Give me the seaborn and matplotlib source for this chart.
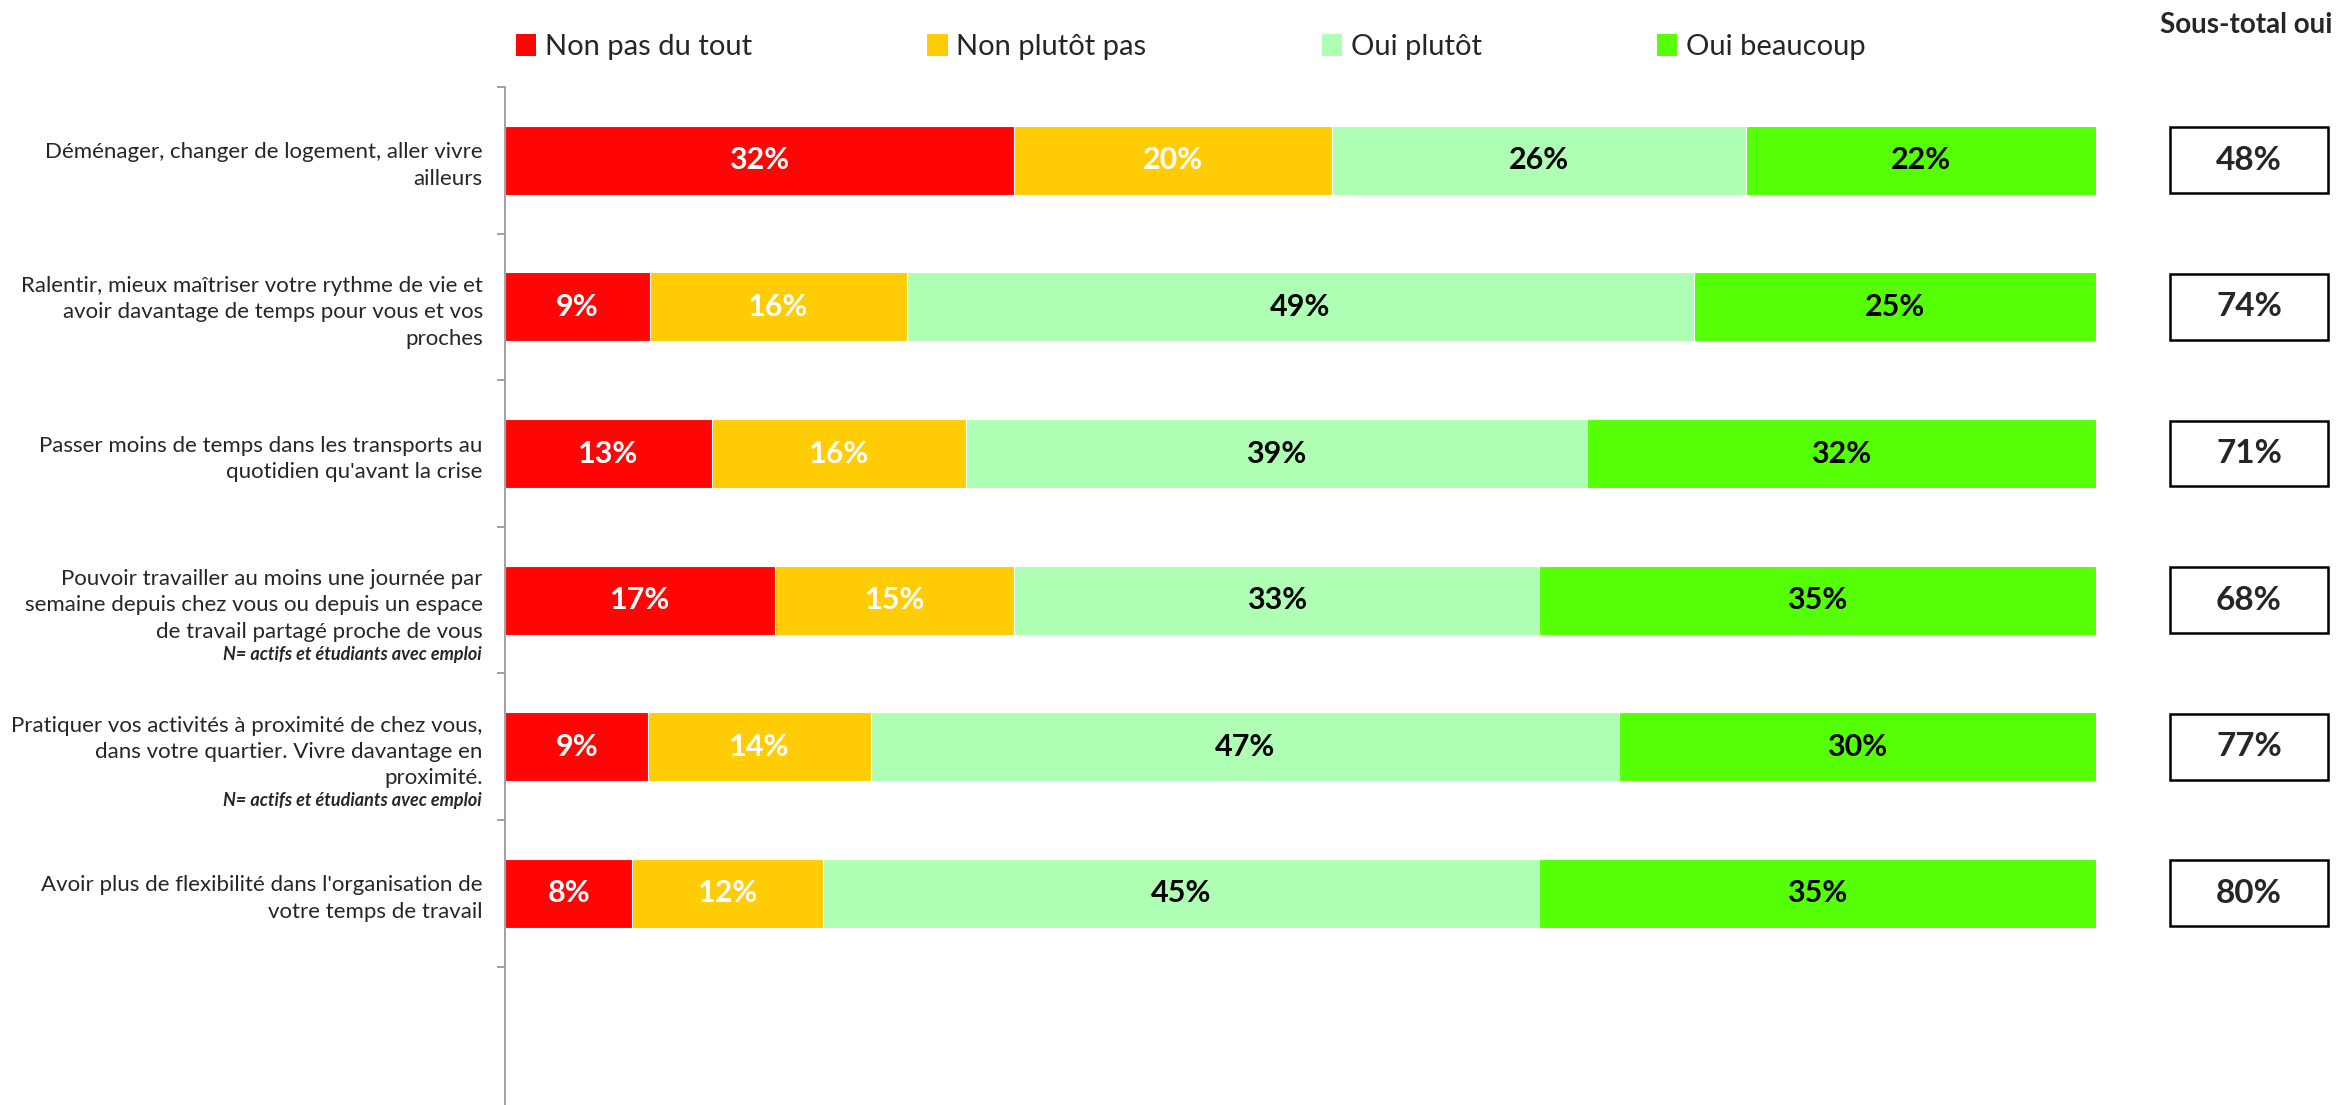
import numpy as np
import pandas as pd
import matplotlib.pyplot as plt
import matplotlib.transforms as mtransforms
from matplotlib.patches import Rectangle, Patch
import seaborn as sns

# === Data ===
items = [
    "Déménager, changer de logement, aller vivre\nailleurs",
    "Ralentir, mieux maîtriser votre rythme de vie et\navoir davantage de temps pour vous et vos\nproches",
    "Passer moins de temps dans les transports au\nquotidien qu'avant la crise",
    "Pouvoir travailler au moins une journée par\nsemaine depuis chez vous ou depuis un espace\nde travail partagé proche de vous",
    "Pratiquer vos activités à proximité de chez vous,\ndans votre quartier. Vivre davantage en\nproximité.",
    "Avoir plus de flexibilité dans l'organisation de\nvotre temps de travail",
]
notes = ["", "", "", "N= actifs et étudiants avec emploi", "N= actifs et étudiants avec emploi", ""]

non_pas_du_tout = [32, 9, 13, 17, 9, 8]
non_plutot_pas = [20, 16, 16, 15, 14, 12]
oui_plutot = [26, 49, 39, 33, 47, 45]
oui_beaucoup = [22, 25, 32, 35, 30, 35]
sous_total_oui = [48, 74, 71, 68, 77, 80]

series_names = ["Non pas du tout", "Non plutôt pas", "Oui plutôt", "Oui beaucoup"]
colors = ["#FF0505", "#FFCC05", "#AEFFB4", "#55FF05"]
text_colors = ["white", "white", "black", "black"]

df = pd.DataFrame({
    "item": items,
    "Non pas du tout": non_pas_du_tout,
    "Non plutôt pas": non_plutot_pas,
    "Oui plutôt": oui_plutot,
    "Oui beaucoup": oui_beaucoup,
})

# 100% stacked: normalise each row
vals = df[series_names]
shares = vals.div(vals.sum(axis=1), axis=0) * 100
cum = shares.cumsum(axis=1)

# === Style ===
sns.set_style("white")
plt.rcParams["font.family"] = ["Lato", "DejaVu Sans"]

W, H = 2346, 1105
fig = plt.figure(figsize=(W / 100, H / 100), dpi=100)
ax = fig.add_axes([505 / W, 0, (2096 - 505) / W, 1 - 87 / H])

# stacked bars drawn as cumulative layers, widest first
for name, color in reversed(list(zip(series_names, colors))):
    sns.barplot(x=cum[name], y=df["item"], color=color, orient="h", width=0.47,
                saturation=1, edgecolor="white", linewidth=0.8, ax=ax)

# segment labels
for i in range(len(df)):
    for j, name in enumerate(series_names):
        center = cum[name].iloc[i] - shares[name].iloc[i] / 2
        ax.text(center, i, f"{vals[name].iloc[i]}%", ha="center", va="center",
                color=text_colors[j], fontsize=22, fontweight="bold")

# axes cosmetics
ax.set_xlim(0, 100)
ax.set_ylim(6.444, -0.5)
ax.set_xlabel("")
ax.set_ylabel("")
ax.set_xticks([])
ax.set_yticks(range(len(items)))
ax.set_yticklabels(items, fontsize=16, linespacing=1.4)
ax.set_yticks(np.arange(-0.5, 6.0, 1), minor=True)
ax.tick_params(axis="y", which="major", length=0, pad=16)
ax.tick_params(axis="y", which="minor", length=6, width=1.3, color="#9a9a9a", left=True)
for s in ["top", "right", "bottom"]:
    ax.spines[s].set_visible(False)
ax.spines["left"].set_color("#9a9a9a")
ax.spines["left"].set_linewidth(1.3)

# notes under some labels
note_tr = mtransforms.blended_transform_factory(fig.transFigure, ax.transData)
for i, note in enumerate(notes):
    if note:
        ax.text(482 / W, i + 0.37, note, transform=note_tr, ha="right", va="center",
                fontsize=13, fontweight="bold", fontstyle="italic", clip_on=False)

# sous-total boxes
box_w = 158 / W
box_h = 0.45
for i, v in enumerate(sous_total_oui):
    cx = 2249 / W
    ax.add_patch(Rectangle((cx - box_w / 2, i - box_h / 2), box_w, box_h, transform=note_tr,
                           facecolor="white", edgecolor="black", linewidth=1.8, clip_on=False))
    ax.text(cx, i, f"{v}%", transform=note_tr, ha="center", va="center",
            fontsize=24, fontweight="bold", clip_on=False)

fig.text(2246 / W, 1 - 25 / H, "Sous-total oui", ha="center", va="center",
         fontsize=20, fontweight="bold")

# legend
handles = [Patch(facecolor=c, edgecolor="none", label=n) for n, c in zip(series_names, colors)]
fig.legend(handles=handles, loc="center left", bbox_to_anchor=(516 / W, 1 - 47 / H),
           ncol=4, frameon=False, fontsize=21, handlelength=0.7, handleheight=0.8,
           handletextpad=0.3, columnspacing=6.0, borderpad=0, borderaxespad=0)

fig.savefig("out.png", dpi=100)
